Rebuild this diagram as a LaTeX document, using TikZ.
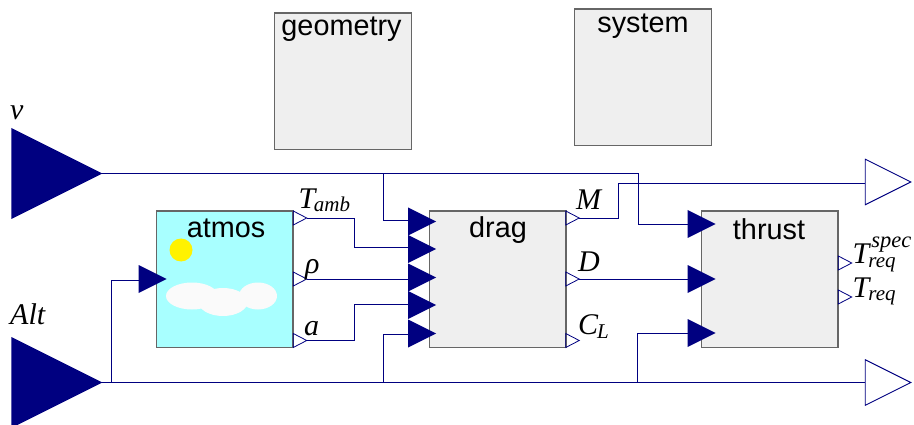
\documentclass[tikz,border=0pt]{standalone}
\usepackage{fontspec}
\setmainfont{Liberation Sans}
\newfontfamily\tnr{Liberation Serif}
\newcommand{\mv}[1]{{\tnr\itshape\fontsize{30}{30}\selectfont #1}}
\newcommand{\msub}[1]{\raisebox{-4pt}{\tnr\itshape\fontsize{21}{21}\selectfont #1}}
\newcommand{\msup}[1]{\raisebox{16pt}{\tnr\itshape\fontsize{22.5}{22.5}\selectfont #1}}
\definecolor{navy}{HTML}{000080}
\definecolor{blockline}{HTML}{666666}
\definecolor{blockfill}{HTML}{EFEFEF}
\definecolor{sky}{HTML}{A8FFFF}
\definecolor{cloud}{HTML}{FAFAFA}
\tikzset{
  x=1pt,y=-1pt,
  block/.style={draw=blockline,line width=1.2pt,fill=blockfill,minimum width=136.5pt,minimum height=136.5pt,inner sep=0pt,outer sep=0pt,anchor=north west},
  blocktitle/.style={font=\fontsize{28.8}{28.8}\selectfont,anchor=base,inner sep=0pt},
  portbase/.style={rectangle,inner sep=0pt,outer sep=0pt,anchor=center},
  inport/.style={portbase,minimum width=#1pt,minimum height=#1pt,
    append after command={\pgfextra{\let\tmpn\tikzlastnode
      \fill[navy] (\tmpn.north west) -- (\tmpn.east) -- (\tmpn.south west) -- cycle;}}},
  outport/.style={portbase,minimum width=#1pt,minimum height=#1pt,
    append after command={\pgfextra{\let\tmpn\tikzlastnode
      \draw[navy,line width=0.9pt,line join=miter] (\tmpn.north west) -- (\tmpn.east) -- (\tmpn.south west) -- cycle;}}},
  smallout/.style={portbase,minimum width=13.5pt,minimum height=14pt,
    append after command={\pgfextra{\let\tmpn\tikzlastnode
      \draw[navy,line width=0.8pt] (\tmpn.north west) -- (\tmpn.east) -- (\tmpn.south west) -- cycle;}}},
  wire/.style={navy,line width=0.9pt},
  lbl/.style={inner sep=0pt,anchor=base west},
}
\begin{document}
\begin{tikzpicture}
\useasboundingbox (0,0) rectangle (914,425);
% blocks
\node[block] (geometry) at (274.8,13) {};
\node[block] (system) at (574.8,9) {};
\node[block,fill=sky] (atmos) at (156.5,211) {};
\node[block] (drag) at (429.5,211) {};
\node[block] (thrust) at (701.5,211) {};
\node[blocktitle] (tgeo) at (341.5,36) {geometry};
\node[blocktitle] (tsys) at (643,33) {system};
\node[blocktitle] (tatm) at (226,237) {atmos};
\node[blocktitle] (tdrag) at (498,237) {drag};
\node[blocktitle] (tthr) at (769,240) {thrust};
% atmos icon
\fill[yellow] (181,250) circle [radius=11.5];
\fill[cloud] (192,296) ellipse [x radius=26,y radius=13.5];
\fill[cloud] (258,296) ellipse [x radius=19,y radius=13.5];
\fill[cloud] (223,302) ellipse [x radius=24.5,y radius=14];
% ports
\node[inport=91] (v) at (56.8,173.5) {};
\node[inport=91] (alt) at (56.8,382.5) {};
\node[outport=45.5] (out1) at (888,182) {};
\node[outport=45.5] (out2) at (888,382.5) {};
\node[inport=28] (atmosin) at (152.5,279) {};
\node[inport=28] (d1) at (422,221.5) {};
\node[inport=28] (d2) at (422,249) {};
\node[inport=28] (d3) at (422,277.5) {};
\node[inport=28] (d4) at (422,305) {};
\node[inport=28] (d5) at (422,333.5) {};
\node[inport=28] (t1) at (701.5,224) {};
\node[inport=28] (t2) at (701.5,279) {};
\node[inport=28] (t3) at (701.5,333) {};
\node[smallout] (aT) at (300,218) {};
\node[smallout] (ar) at (300,279) {};
\node[smallout] (aa) at (300,340.5) {};
\node[smallout] (dM) at (572.5,218) {};
\node[smallout] (dD) at (572.5,279) {};
\node[smallout] (dC) at (572.5,340.5) {};
\node[smallout] (tS) at (845,263) {};
\node[smallout] (tR) at (845,297) {};
% junctions and bends
\coordinate (jv) at (383,173.5);
\coordinate (jvb) at (638,173.5);
\coordinate (ja1) at (111,382.5);
\coordinate (ja2) at (383.5,382.5);
\coordinate (ja3) at (637,382.5);
\coordinate (mTa) at (354,218);
\coordinate (mTb) at (354,247);
\coordinate (maa) at (354,340.5);
\coordinate (mab) at (354,304);
\coordinate (mMa) at (618.5,218);
\coordinate (mMb) at (618.5,183);
\coordinate (d1w) at (383,220);
\coordinate (d5w) at (383.5,334);
\coordinate (t3w) at (637,333);
\coordinate (t1w) at (638,224);
\coordinate (ainw) at (111,280.5);
\coordinate (dTend) at (408,247);
\coordinate (daend) at (408,304);
\coordinate (drend) at (408,279);
% wires
\draw[wire] (v.east) -- (jv) -- (jvb) -- (t1w) -- (t1.west);
\draw[wire] (jv) -- (d1w) -- (d1.west |- d1w);
\draw[wire] (alt.east |- ja1) -- (ja1) -- (ja2) -- (ja3) -- (out2.west |- ja3);
\draw[wire] (ja1) -- (ainw) -- (atmosin.west |- ainw);
\draw[wire] (ja2) -- (d5w) -- (d5.west |- d5w);
\draw[wire] (ja3) -- (t3w) -- (t3.west);
\draw[wire] (aT.east) -- (mTa) -- (mTb) -- (dTend);
\draw[wire] (ar.east) -- (drend);
\draw[wire] (aa.east) -- (maa) -- (mab) -- (daend);
\draw[wire] (dM.east) -- (mMa) -- (mMb) -- (out1.west |- mMb);
\draw[wire] (dD.east) -- (t2.west);
% labels
\node[lbl] (lv) at (10,120) {\mv{v}};
\node[lbl] (lalt) at (10,324) {\mv{Alt}};
\node[lbl] (lT) at (298.5,208) {\mv{T}\kern-1.5pt\msub{amb}};
\node[lbl] (lr) at (305,273) {\mv{ρ}};
\node[lbl] (la) at (304,335) {\mv{a}};
\node[lbl] (lM) at (576,210) {\mv{M}};
\node[lbl] (lD) at (578,272) {\mv{D}};
\node[lbl] (lC) at (578,334) {\mv{C}\kern-1pt\msub{L}};
\node[lbl] (lS) at (852.5,263) {\mv{T}\kern-1pt\rlap{\msub{req}}\kern3pt\msup{spec}};
\node[lbl] (lR) at (852.5,297) {\mv{T}\kern-1pt\msub{req}};
\end{tikzpicture}
\end{document}
